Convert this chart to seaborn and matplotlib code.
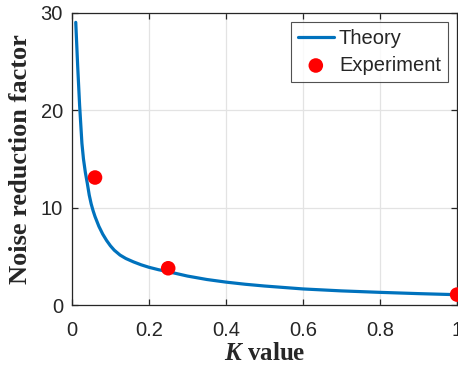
import numpy as np
import pandas as pd
import matplotlib
matplotlib.use("Agg")
import matplotlib.pyplot as plt
import seaborn as sns

# theory curve
k_theory = [0.01, 0.015, 0.02, 0.026, 0.03, 0.035, 0.04, 0.045, 0.05, 0.055, 0.06,
            0.07, 0.08, 0.09, 0.1, 0.11, 0.125, 0.14, 0.16, 0.18, 0.2, 0.225, 0.25,
            0.3, 0.35, 0.4, 0.45, 0.5, 0.6, 0.7, 0.8, 0.9, 1.0]
nrf_theory = [29.0, 24.5, 20.5, 16.6, 15.0, 13.6, 12.5, 11.3, 10.4, 9.7, 9.1,
              8.1, 7.3, 6.65, 6.1, 5.65, 5.15, 4.8, 4.45, 4.15, 3.9, 3.65, 3.45,
              3.0, 2.65, 2.38, 2.16, 1.98, 1.68, 1.48, 1.33, 1.2, 1.09]

# experiment points
k_exp = [0.06, 0.25, 1.0]
nrf_exp = [13.1, 3.8, 1.1]

theory = pd.DataFrame({"K": k_theory, "nrf": nrf_theory})
exp = pd.DataFrame({"K": k_exp, "nrf": nrf_exp})

sns.set_theme(style="ticks")
plt.rcParams["font.family"] = ["Liberation Sans", "DejaVu Sans"]
plt.rcParams["mathtext.fontset"] = "custom"
plt.rcParams["mathtext.it"] = "Liberation Serif:bold:italic"
plt.rcParams["mathtext.rm"] = "Liberation Serif:bold"

fig = plt.figure(figsize=(4.58, 3.71), dpi=100)
ax = fig.add_axes([0.157, 0.177, 0.841, 0.789])

sns.lineplot(data=theory, x="K", y="nrf", ax=ax, color="#0072BD", linewidth=2.3,
             label="Theory", sort=False)
sns.scatterplot(data=exp, x="K", y="nrf", ax=ax, color="#FF0000", s=110,
                edgecolor="none", label="Experiment", clip_on=False, zorder=5)

ax.set_xlim(0, 1)
ax.set_ylim(0, 30)
ax.set_xticks([0, 0.2, 0.4, 0.6, 0.8, 1])
ax.set_xticklabels(["0", "0.2", "0.4", "0.6", "0.8", "1"])
ax.set_yticks([0, 10, 20, 30])
ax.grid(True, color="#e3e3e3", linewidth=0.9)
ax.set_axisbelow(True)
ax.tick_params(direction="in", top=True, right=True, length=4, width=0.9,
               labelsize=14.5, colors="#262626")
ax.tick_params(axis="x", pad=11)
ax.tick_params(axis="y", pad=6.5)
for sp in ax.spines.values():
    sp.set_color("#262626")
    sp.set_linewidth(0.9)

ax.set_xlabel(r"$K$ value", fontfamily="Liberation Serif", fontweight="bold",
              fontsize=18, color="#262626", labelpad=2)
ax.set_ylabel("Noise reduction factor", fontfamily="Liberation Serif",
              fontweight="bold", fontsize=19, color="#262626", labelpad=6)

leg = ax.legend(loc="upper right", fontsize=14.5, frameon=True, fancybox=False,
                edgecolor="#262626", handlelength=1.8, borderpad=0.35,
                labelspacing=0.4, handletextpad=0.25, borderaxespad=0.45)
leg.get_frame().set_linewidth(0.8)

fig.savefig("out.png", dpi=100)
